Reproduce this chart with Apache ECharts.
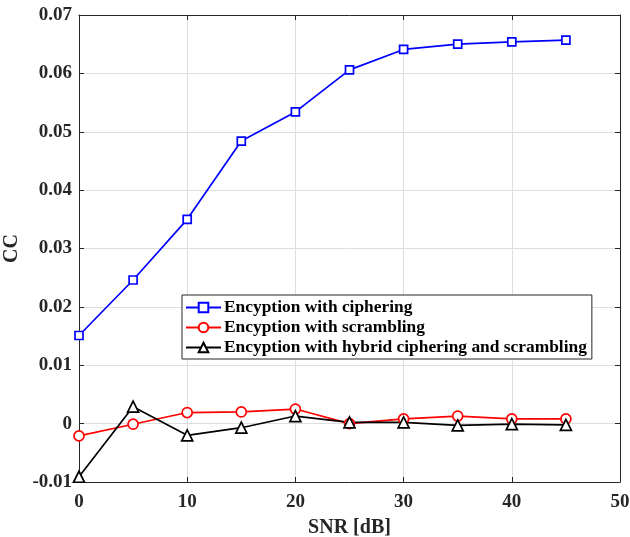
<!DOCTYPE html>
<html><head><meta charset="utf-8">
<script src="https://cdn.jsdelivr.net/npm/echarts@6/dist/echarts.min.js"></script>
<style>html,body{margin:0;padding:0;background:#fff}#c{width:630px;height:537px}</style>
</head><body><div id="c"></div>
<script>
const snr = [0, 5, 10, 15, 20, 25, 30, 35, 40, 45];
const ciphering = [0.0151, 0.0246, 0.0350, 0.0484, 0.0534, 0.0606, 0.0641, 0.0650, 0.0654, 0.0657];
const scrambling = [-0.0021, -0.0001, 0.0019, 0.0020, 0.0025, 0.0000, 0.0008, 0.0013, 0.0008, 0.0008];
const hybrid = [-0.0091, 0.0029, -0.0020, -0.0007, 0.0013, 0.0002, 0.0002, -0.0003, -0.0001, -0.0002];
const names = ['Encyption with ciphering', 'Encyption with scrambling', 'Encyption with hybrid ciphering and scrambling'];

const font = 'Liberation Serif';
const tc = '#262626';
const fmt = v => { const r = Math.round(v * 100) / 100; return r === 0 ? '0' : String(r); };
const chart = echarts.init(document.getElementById('c'));
const mk = (name, data, color, symbol, size) => ({
  name, type: 'line', data: snr.map((x, i) => [x, data[i]]),
  symbol, symbolSize: size, showAllSymbol: true,
  lineStyle: { color, width: 1.7 }, itemStyle: { color: '#fff', borderColor: color, borderWidth: 1.7 },
  emphasis: { disabled: true }, animation: false
});
const boxAxis = {
  axisLine: { show: true, onZero: false, lineStyle: { color: tc, width: 1 } },
  axisTick: { show: true, inside: true, length: 5, lineStyle: { color: tc } },
};
chart.setOption({
  animation: false,
  grid: { left: 79, top: 15, right: 10, bottom: 55, containLabel: false, outerBoundsMode: 'none' },
  xAxis: [Object.assign({
    type: 'value', min: 0, max: 50, interval: 10,
    name: 'SNR [dB]', nameLocation: 'middle', nameGap: 36,
    nameTextStyle: { fontFamily: font, fontWeight: 'bold', fontSize: 20, color: tc },
    axisLabel: { fontFamily: font, fontWeight: 'bold', fontSize: 19, color: tc, margin: 11 },
    splitLine: { show: true, lineStyle: { color: '#dedede', width: 1 } }
  }, boxAxis), Object.assign({
    type: 'value', min: 0, max: 50, interval: 10, position: 'top',
    axisLabel: { show: false }, splitLine: { show: false }
  }, boxAxis)],
  yAxis: [Object.assign({
    type: 'value', min: -0.01, max: 0.07, interval: 0.01,
    name: 'CC', nameLocation: 'middle', nameGap: 52,
    nameTextStyle: { fontFamily: font, fontWeight: 'bold', fontSize: 20, color: tc },
    axisLabel: { fontFamily: font, fontWeight: 'bold', fontSize: 19, color: tc, margin: 7, formatter: fmt },
    splitLine: { show: true, lineStyle: { color: '#dedede', width: 1 } }
  }, boxAxis), Object.assign({
    type: 'value', min: -0.01, max: 0.07, interval: 0.01, position: 'right',
    axisLabel: { show: false }, splitLine: { show: false }
  }, boxAxis)],
  legend: {
    orient: 'vertical', left: 182, top: 295,
    data: names,
    itemWidth: 35, itemHeight: 12, itemGap: 3,
    padding: [4, 5, 3, 3],
    borderColor: tc, borderWidth: 1, backgroundColor: '#fff',
    textStyle: { fontFamily: font, fontWeight: 'bold', fontSize: 17.4, color: '#000', padding: [0, 0, 0, -2] },
    selectedMode: false
  },
  series: [
    mk(names[0], ciphering, '#0000ff', 'rect', 8),
    mk(names[1], scrambling, '#ff0000', 'circle', 10),
    mk(names[2], hybrid, '#000000', 'triangle', 11)
  ]
});
</script></body></html>
